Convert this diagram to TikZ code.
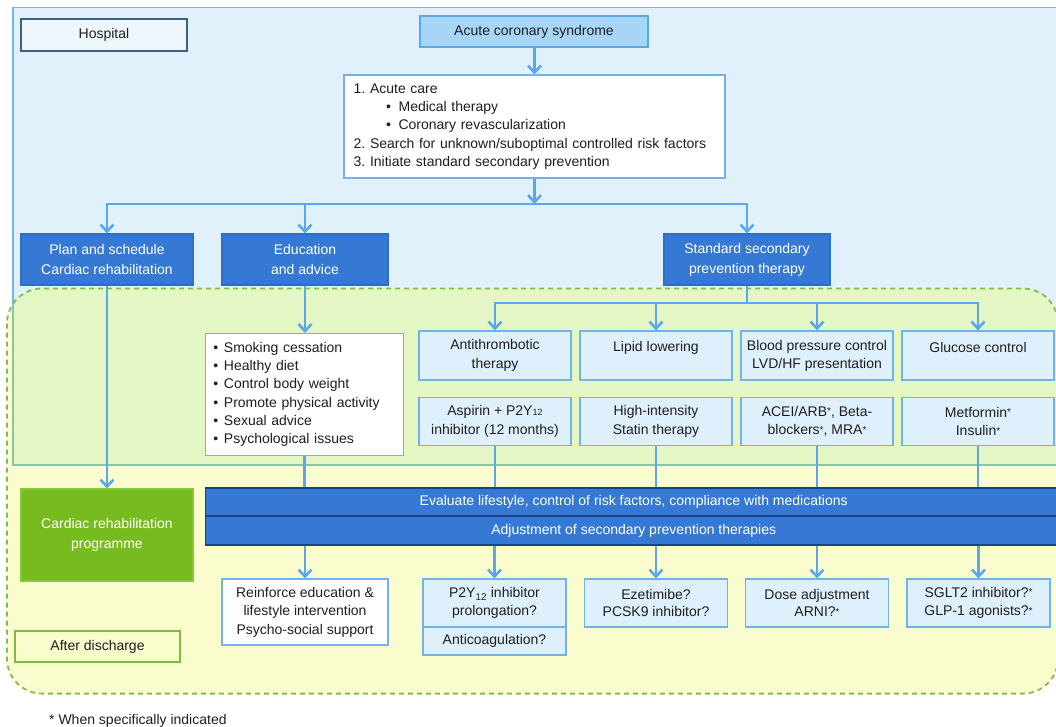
\documentclass[tikz,border=0pt]{standalone}
\usepackage{fontspec}
\setmainfont{Liberation Sans}
\usetikzlibrary{arrows.meta}
\definecolor{txt}{HTML}{1E1E1E}
\definecolor{hospfill}{HTML}{E1F1FB}
\definecolor{hospdraw}{HTML}{72B5EA}
\definecolor{hospin}{HTML}{8FC3A8}
\definecolor{greenfill}{HTML}{E4F6C4}
\definecolor{yellowfill}{HTML}{FAFCCD}
\definecolor{dashc}{HTML}{80BF47}
\definecolor{lbfill}{HTML}{DEF0FB}
\definecolor{lbdraw}{HTML}{6FB3EA}
\definecolor{dkfill}{HTML}{3579D4}
\definecolor{dkdraw}{HTML}{2F6DC6}
\definecolor{bardraw}{HTML}{1B3F86}
\definecolor{acsfill}{HTML}{A7D5F6}
\definecolor{acsdraw}{HTML}{5CA8E6}
\definecolor{grbox}{HTML}{77BC1F}
\definecolor{grdraw}{HTML}{86C63A}
\definecolor{hlabdraw}{HTML}{3A6383}
\definecolor{hlabfill}{HTML}{EEF7FC}
\definecolor{afterdraw}{HTML}{7DBB40}
\definecolor{arrc}{HTML}{5AA8EC}
\newcommand\smallstar{\raisebox{1.5pt}{\fontsize{10}{10}\selectfont *}}
\begin{document}
\begin{tikzpicture}[x=1pt,y=-1pt,
  font=\fontsize{14}{18.5}\selectfont,
  box/.style={draw, inner sep=0pt, align=center, text=txt, line width=1.1pt},
  lbox/.style={box, fill=lbfill, draw=lbdraw},
  wbox/.style={box, fill=white, draw=lbdraw},
  dbox/.style={box, fill=dkfill, draw=dkdraw, text=white},
  barbox/.style={box, fill=dkfill, draw=bardraw, text=white, line width=1.4pt},
  conn/.style={draw=arrc, line width=2.6pt},
  arr/.style={conn, -{Straight Barb[length=7pt,width=13pt]}}
]
\path[use as bounding box] (0,0) rectangle (1056,727);
\clip (0,0) rectangle (1056,727);

% backgrounds
\filldraw[fill=hospfill, draw=hospdraw, line width=1.5pt] (1070,7.5) -- (13,7.5) -- (13,465) -- (1070,465);
\fill[yellowfill, rounded corners=35pt] (7,288.5) rectangle (1058,693.6);
\begin{scope}
  \clip[rounded corners=35pt] (7,288.5) rectangle (1058,693.6);
  \fill[greenfill] (13,7.5) rectangle (1070,465);
  \draw[hospin, line width=1.5pt] (13,200) -- (13,465) -- (1070,465);
\end{scope}
\draw[dashc, line width=1.8pt, dash pattern=on 5pt off 4pt, rounded corners=35pt] (7,288.5) rectangle (1058,693.6);

% top part
\node[box, fill=hlabfill, draw=hlabdraw, line width=1.5pt, minimum width=166, minimum height=32] (hosp) at (104,35) {Hospital};
\node[box, fill=acsfill, draw=acsdraw, minimum width=228, minimum height=31] (acs) at (534,31.5) {Acute coronary syndrome};
\node[wbox, minimum width=381, minimum height=103, text width=361.6pt, align=left, inner xsep=9.7pt,
  font=\fontsize{14}{18.2}\selectfont] (acute) at (534.5,126.5) {%
\makebox[16.3pt][l]{1.}Acute care\\
\hspace*{32.3pt}\makebox[12.6pt][l]{\textbullet}Medical therapy\\
\hspace*{32.3pt}\makebox[12.6pt][l]{\textbullet}Coronary revascularization\\
\makebox[16.3pt][l]{2.}Search for unknown/suboptimal controlled risk factors\\
\makebox[16.3pt][l]{3.}Initiate standard secondary prevention};

\node[dbox, minimum width=172, minimum height=51, font=\fontsize{14}{20}\selectfont] (plan) at (107,259.5) {Plan and schedule\\Cardiac rehabilitation};
\node[dbox, minimum width=166, minimum height=51, font=\fontsize{14}{20}\selectfont] (edu) at (305,259.5) {Education\\and advice};
\node[dbox, minimum width=166, minimum height=51, font=\fontsize{14}{20}\selectfont] (std) at (747,259.5) {Standard secondary\\prevention therapy};

% lifestyle list
\node[wbox, minimum width=198.3, minimum height=122, text width=182.1pt, align=left, inner xsep=8.1pt,
  font=\fontsize{14}{18.3}\selectfont] (life) at (304.5,394.5) {%
\makebox[10.5pt][l]{\textbullet}Smoking cessation\\
\makebox[10.5pt][l]{\textbullet}Healthy diet\\
\makebox[10.5pt][l]{\textbullet}Control body weight\\
\makebox[10.5pt][l]{\textbullet}Promote physical activity\\
\makebox[10.5pt][l]{\textbullet}Sexual advice\\
\makebox[10.5pt][l]{\textbullet}Psychological issues};

% row 1
\node[lbox, minimum width=152, minimum height=49, font=\fontsize{14}{19}\selectfont] (anti) at (495,355.5) {Antithrombotic\\therapy};
\node[lbox, minimum width=152, minimum height=49, font=\fontsize{14}{18}\selectfont] (lipid) at (656,355.5) {Lipid lowering\\\mbox{}};
\node[lbox, minimum width=152, minimum height=49, font=\fontsize{14}{18}\selectfont] (bp) at (817,355.5) {Blood pressure control\\LVD/HF presentation};
\node[lbox, minimum width=152, minimum height=49, font=\fontsize{14}{17}\selectfont] (gluc) at (978,355.5) {Glucose control\\\mbox{}};

% row 2
\node[lbox, minimum width=152, minimum height=48] (asp) at (495,421.5) {Aspirin + P2Y{\fontsize{9}{9}\selectfont 12}\\inhibitor (12 months)};
\node[lbox, minimum width=152, minimum height=48] (statin) at (656,421.5) {High-intensity\\Statin therapy};
\node[lbox, minimum width=152, minimum height=48] (acei) at (817,421.5) {ACEI/ARB\smallstar, Beta-\\blockers\smallstar, MRA\smallstar};
\node[lbox, minimum width=152, minimum height=48] (metf) at (978,421.5) {Metformin\smallstar\\Insulin\smallstar};

% after discharge part
\node[box, fill=grbox, draw=grdraw, text=white, minimum width=172, minimum height=92, font=\fontsize{14}{20}\selectfont] (crp) at (107,535) {Cardiac rehabilitation\\programme};
\node[barbox, minimum width=857, minimum height=28] (eval) at (633.7,502) {Evaluate lifestyle, control of risk factors, compliance with medications};
\node[barbox, minimum width=857, minimum height=29] (adj) at (633.7,530.5) {Adjustment of secondary prevention therapies};

\node[wbox, minimum width=166, minimum height=66] (reinf) at (305,612) {Reinforce education \&\\lifestyle intervention\\Psycho-social support};
\node[lbox, minimum width=143, minimum height=48, font=\fontsize{14}{17.5}\selectfont] (p2y) at (494.5,603) {P2Y\textsubscript{12} inhibitor\\prolongation?};
\node[lbox, minimum width=143, minimum height=28] (anticoag) at (494.5,641) {Anticoagulation?};
\node[lbox, minimum width=143, minimum height=48, font=\fontsize{14}{17.5}\selectfont] (ezet) at (656,603) {Ezetimibe?\\PCSK9 inhibitor?};
\node[lbox, minimum width=143, minimum height=48, font=\fontsize{14}{17.5}\selectfont] (dose) at (817,603) {Dose adjustment\\ARNI?\smallstar};
\node[lbox, minimum width=143, minimum height=48] (sglt) at (978.5,603) {SGLT2 inhibitor?\smallstar\\GLP-1 agonists?\smallstar};

\node[box, fill=yellowfill, draw=afterdraw, line width=1.4pt, minimum width=165, minimum height=31] (after) at (97.5,646.5) {After discharge};
\node[anchor=base west, inner sep=0pt, text=txt] (foot) at (49,724) {* When specifically indicated};

% connectors
\draw[arr] (acs.south -| acute.north) -- (acute.north);
\coordinate (bus1) at (534.5,204);
\draw[arr] (acute.south) -- (bus1);
\draw[arr] (bus1) -| (plan.north);
\draw[arr] (bus1) -| (std.north);
\draw[arr] (edu.north |- bus1) -- (edu.north);

\coordinate (bus2) at (747,303);
\draw[conn] (std.south) -- (bus2);
\draw[arr] (bus2) -| (anti.north);
\draw[arr] (bus2) -| (gluc.north);
\draw[arr] (lipid.north |- bus2) -- (lipid.north);
\draw[arr] (bp.north |- bus2) -- (bp.north);

\draw[arr] (edu.south) -- (edu.south |- life.north);
\draw[arr] (plan.south) -- (crp.north);

\draw[conn] (life.south) -- (life.south |- eval.north);
\draw[conn] (asp.south) -- (asp.south |- eval.north);
\draw[conn] (statin.south) -- (statin.south |- eval.north);
\draw[conn] (acei.south) -- (acei.south |- eval.north);
\draw[conn] (metf.south) -- (metf.south |- eval.north);

\draw[arr] (adj.south -| reinf.north) -- (reinf.north);
\draw[arr] (adj.south -| p2y.north) -- (p2y.north);
\draw[arr] (adj.south -| ezet.north) -- (ezet.north);
\draw[arr] (adj.south -| dose.north) -- (dose.north);
\draw[arr] (adj.south -| sglt.north) -- (sglt.north);
\end{tikzpicture}
\end{document}
